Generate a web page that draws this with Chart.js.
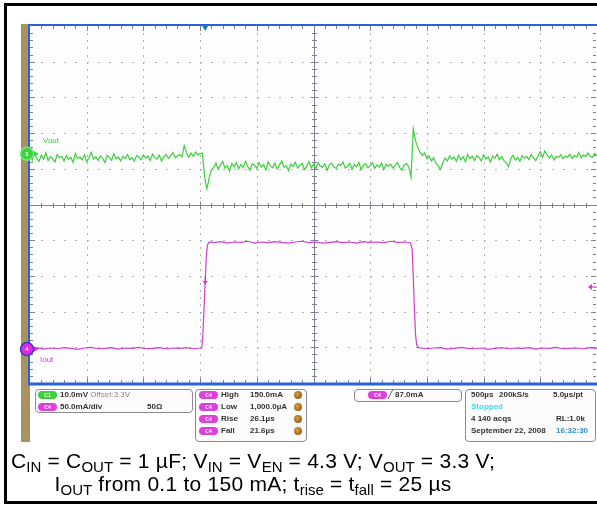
<!DOCTYPE html>
<html>
<head>
<meta charset="utf-8">
<script src="https://cdn.jsdelivr.net/npm/chart.js@4/dist/chart.umd.min.js"></script>
<style>
  body { margin: 0; background: #fff; }
  #wrap { position: relative; width: 597px; height: 506px; overflow: hidden; font-family: "Liberation Sans", Arial, sans-serif; }
  #frame { position: absolute; left: 4px; top: 3px; width: 610px; height: 501px; border: 3px solid #000; box-sizing: border-box; }
  #strip { position: absolute; left: 21px; top: 24px; width: 9px; height: 418px; background: #a8925f; }
  #scope { position: absolute; left: 0; top: 0; }
  .pan { position: absolute; border: 1px solid #8c8c8c; border-radius: 4px; background: #fcfcfc; box-sizing: border-box; }
  .t { position: absolute; font-size: 8px; line-height: 8px; font-weight: bold; color: #333; white-space: nowrap; }
  .g { color: #888; font-weight: normal; }
  .pill { position: absolute; width: 19px; height: 8px; border-radius: 4px; font-size: 5px; line-height: 8px; color: #fff; text-align: center; font-weight: bold; }
  .c1 { background: #3fcf3f; }
  .c4 { background: #de3ede; }
  .dot { position: absolute; width: 8px; height: 8px; border-radius: 50%; background: radial-gradient(circle at 40% 40%, #e0a040, #7a4a10); }
  .lbl { position: absolute; font-size: 8px; line-height: 8px; white-space: nowrap; }
  .cap { position: absolute; left: 0; width: 506px; text-align: center; font-size: 21px; line-height: 22px; letter-spacing: 0.25px; color: #000; white-space: nowrap; }
  .cap .s { font-size: 15px; position: relative; top: 4px; letter-spacing: 0; }
</style>
</head>
<body>
<div id="wrap">
  <div id="frame"></div>
  <div id="strip"></div>
  <canvas id="scope" width="597" height="506"></canvas>

  <div class="lbl" style="left:43px;top:137px;color:#3ccf3c;">Vout</div>
  <div class="lbl" style="left:40px;top:356px;color:#d23cd2;">Iout</div>

  <!-- channel settings -->
  <div class="pan" style="left:35px;top:389px;width:158px;height:24px;"></div>
  <div class="pill c1" style="left:38px;top:391px;">C1</div>
  <div class="t" style="left:60px;top:391px;">10.0mV <span class="g">Offset:3.3V</span></div>
  <div class="pill c4" style="left:38px;top:403px;">C4</div>
  <div class="t" style="left:60px;top:403px;">50.0mA/div</div>
  <div class="t" style="left:147px;top:403px;">50Ω</div>

  <!-- measurements -->
  <div class="pan" style="left:195px;top:389px;width:112px;height:53px;"></div>
  <div class="pill c4" style="left:199px;top:391px;">C4</div>
  <div class="t" style="left:221px;top:391px;">High</div>
  <div class="t" style="left:250px;top:391px;">150.0mA</div>
  <div class="dot" style="left:294px;top:391px;"></div>
  <div class="pill c4" style="left:199px;top:403px;">C4</div>
  <div class="t" style="left:221px;top:403px;">Low</div>
  <div class="t" style="left:250px;top:403px;">1,000.0µA</div>
  <div class="dot" style="left:294px;top:403px;"></div>
  <div class="pill c4" style="left:199px;top:415px;">C4</div>
  <div class="t" style="left:221px;top:415px;">Rise</div>
  <div class="t" style="left:250px;top:415px;">26.1µs</div>
  <div class="dot" style="left:294px;top:415px;"></div>
  <div class="pill c4" style="left:199px;top:427px;">C4</div>
  <div class="t" style="left:221px;top:427px;">Fall</div>
  <div class="t" style="left:250px;top:427px;">21.6µs</div>
  <div class="dot" style="left:294px;top:427px;"></div>

  <!-- trigger -->
  <div class="pan" style="left:354px;top:389px;width:108px;height:13px;"></div>
  <div class="pill c4" style="left:368px;top:391px;">C4</div>
  <div class="t" style="left:388px;top:391px;font-weight:normal;">&#x2571;</div>
  <div class="t" style="left:395px;top:391px;">87.0mA</div>

  <!-- acquisition -->
  <div class="pan" style="left:465px;top:389px;width:131px;height:53px;"></div>
  <div class="t" style="left:471px;top:391px;">500µs</div>
  <div class="t" style="left:499px;top:391px;">200kS/s</div>
  <div class="t" style="left:553px;top:391px;">5.0µs/pt</div>
  <div class="t" style="left:471px;top:403px;color:#46d6e6;">Stopped</div>
  <div class="t" style="left:471px;top:415px;">4 140 acqs</div>
  <div class="t" style="left:556px;top:415px;">RL:1.0k</div>
  <div class="t" style="left:471px;top:427px;">September 22, 2008</div>
  <div class="t" style="left:556px;top:427px;color:#3a8fd0;">16:32:30</div>

  <div class="cap" style="top:450px;">C<span class="s">IN</span> = C<span class="s">OUT</span> = 1 µF; V<span class="s">IN</span> = V<span class="s">EN</span> = 4.3 V; V<span class="s">OUT</span> = 3.3 V;</div>
  <div class="cap" style="top:473px;">I<span class="s">OUT</span> from 0.1 to 150 mA; t<span class="s">rise</span> = t<span class="s">fall</span> = 25 µs</div>
</div>

<script>
// Vout ripple around the 3.3 V offset, mV, one reading every SAMPLE_US
const SAMPLE_US = 20;
const voutMv = [
  -0.6, -1.8, 0.2, -1.2, -2.1, -0.4, -1.5, 0.3, -1.9, -0.8,
  -1.4, -2.3, -0.2, -1.1, -0.7, -2.0, -0.5, -1.6, -1.0, -2.4,
  0.1, -1.3, -0.9, -1.7, -0.3, -2.2, -1.1, 0.4, -1.5, -0.8,
  -1.9, -0.6, -1.2, -2.5, -0.4, -1.0, -1.8, 0.0, -1.4, -0.9,
  -2.0, -0.7, -1.3, -0.2, -1.6, -1.1, -2.1, -0.5, -0.9, -1.7,
  -0.3, -1.2, -0.6, -1.9, -0.1, -1.0, -1.5, -0.4, -2.0, -0.8,
  -0.2, -1.3, -0.5, 0.3, -1.1, -0.6, -0.2, -0.9, 2.3, 0.4,
  -1.0, 0.2, -0.7, 0.5, -0.3, 0.1,
  0.2, -6.5, -9.8, -6.8, -4.5,
  -3.8, -2.6, -4.4, -3.1, -2.2, -4.0, -3.3, -4.8, -2.7, -3.6,
  -2.4, -4.2, -3.0, -3.9, -2.1, -3.5, -4.6, -2.8, -3.2, -4.1,
  -2.5, -3.7, -3.0, -4.5, -2.3, -3.4, -3.9, -2.6, -4.3, -3.1,
  -2.0, -3.8, -3.3, -4.7, -2.9, -3.5, -2.4, -4.0, -3.2, -2.7,
  -4.4, -3.6, -2.2, -3.9, -3.0, -4.2, -2.5, -3.4, -3.8, -2.8,
  -4.6, -3.1, -2.6, -3.7, -4.1, -2.9, -3.3, -2.3, -4.0, -3.5,
  -2.7, -4.3, -3.0, -3.6, -2.4, -4.5, -3.2, -2.8, -3.9, -3.4,
  -2.5, -4.1, -3.1, -3.7, -2.6, -4.4, -3.0, -3.5, -2.9, -4.0,
  -3.3, -2.4, -3.8, -4.6, -3.1, -2.7, -3.6,
  -6.5,
  7.0, 3.6, 1.8, 0.4, -0.5, 0.3, -1.4, -0.6, -2.0, -1.1,
  -2.7, -3.4, -4.4, -2.5, -1.2, -2.0, -0.6, -1.5, -0.9, -2.1,
  -0.4, -1.7, -0.8, -2.2, -0.2, -1.3, -0.7, -1.9, -0.5, -1.1,
  -2.0, -0.3, -1.4, -0.9, -2.3, -0.6, -1.2, -0.1, -1.6, -0.8,
  -1.9, -2.6, -3.6, -1.3, -0.4, -1.8, -1.0, -2.1, -0.5, -1.2,
  -0.8, -1.6, -0.2, -1.1, -1.9, -0.6, 0.6, -1.0, 0.8, -0.4,
  -1.2, -0.3, -1.7, -0.7, -1.1, -0.2, -1.4, -0.6, -1.0, -0.1,
  -1.3, -0.5, -0.9, 0.4, -1.1, -0.3, -0.8, 0.2, -0.6, -1.0, 0.1, -0.4
];

// Iout load step, time in µs and current in mA
const iTimeUs = [
  0, 60, 120, 180, 240, 300, 360, 420, 480, 540, 600, 660, 720, 780, 840, 900, 960,
  1020, 1080, 1140, 1200, 1260, 1320, 1380, 1440, 1500,
  1515, 1525, 1535, 1545, 1555, 1565, 1580,
  1620, 1680, 1740, 1800, 1860, 1920, 1980, 2040, 2100, 2160, 2220, 2280, 2340, 2400,
  2460, 2520, 2580, 2640, 2700, 2760, 2820, 2880, 2940, 3000, 3060, 3120, 3180, 3240, 3300, 3355,
  3370, 3380, 3390, 3400, 3410, 3425,
  3500, 3560, 3620, 3680, 3740, 3800, 3860, 3920, 3980, 4040, 4100, 4160, 4220,
  4280, 4340, 4400, 4460, 4520, 4580, 4640, 4700, 4760, 4820, 4880, 4940, 5000
];
const iMa = [
  1, 2, 0, 1.5, 0.5, 2, 1, -0.5, 1.5, 2.5, 0.5, 1, 2, 0, 1.5, 1, 2.5,
  0.5, 1, 2, 0.5, 1.5, 1, 2, 0.5, 1.5,
  2, 22, 58, 95, 130, 146, 150,
  149, 150.5, 148.5, 150, 149.5, 151, 148.5, 150, 149, 150.5, 149.5, 148.5, 150, 151,
  149, 150, 148.5, 149.5, 150.5, 149, 150, 148.5, 150.5, 149.5, 150, 149, 151, 149.5, 150, 149,
  140, 100, 55, 20, 6, 2,
  0.5, 1.5, 2, 0, 1, 2.5, 1, 0.5, 1.5, -0.5, 1, 2, 0.5,
  1.5, 1, 2, 0, 1.5, 1, 2.5, 0.5, 1, 1.5, 0.5, 2, 1
];

// scope settings
const X_MAX_US = 5000;          // 10 div x 500 µs
const V_RANGE = [-64.2, 35.8];  // 10 mV/div, offset marker at 0
const I_RANGE = [-47.5, 452.5]; // 50 mA/div, ground marker at 0
const TRIG_US = 1545;
const TRIG_MA = 87;

const graticule = {
  id: 'graticule',
  beforeDatasetsDraw(chart) {
    const { ctx, chartArea: a } = chart;
    const dx = (a.right - a.left) / 10, dy = (a.bottom - a.top) / 10;
    ctx.save();
    ctx.fillStyle = '#fdfdfd';
    ctx.fillRect(a.left, a.top, a.right - a.left, a.bottom - a.top);

    // dotted grid
    ctx.fillStyle = '#b0b0b0';
    for (let i = 1; i < 10; i++) {
      if (i === 5) continue;
      const x = Math.round(a.left + i * dx);
      for (let j = 1; j < 50; j++) ctx.fillRect(x, Math.round(a.top + j * dy / 5), 1, 2);
      const y = Math.round(a.top + i * dy);
      for (let j = 1; j < 50; j++) ctx.fillRect(Math.round(a.left + j * dx / 5), y, 2, 1);
    }

    // center cross + ticks
    const cx = Math.round(a.left + 5 * dx) + 0.5, cy = Math.round(a.top + 5 * dy) + 0.5;
    ctx.strokeStyle = '#7d8494';
    ctx.lineWidth = 1;
    ctx.beginPath();
    ctx.moveTo(a.left, cy); ctx.lineTo(a.right, cy);
    ctx.moveTo(cx, a.top); ctx.lineTo(cx, a.bottom);
    for (let j = 1; j < 50; j++) {
      const x = Math.round(a.left + j * dx / 5) + 0.5;
      const y = Math.round(a.top + j * dy / 5) + 0.5;
      const L = j % 5 === 0 ? 4 : 2.5;
      ctx.moveTo(x, cy - L); ctx.lineTo(x, cy + L);
      ctx.moveTo(cx - L, y); ctx.lineTo(cx + L, y);
      const E = j % 5 === 0 ? 5 : 3;
      ctx.moveTo(x, a.top); ctx.lineTo(x, a.top + E);
      ctx.moveTo(x, a.bottom); ctx.lineTo(x, a.bottom - E);
      ctx.moveTo(a.left, y); ctx.lineTo(a.left + E, y);
      ctx.moveTo(a.right - 1, y); ctx.lineTo(a.right - 1 - E, y);
    }
    ctx.stroke();

    // blue frame
    ctx.strokeStyle = '#2a63d6';
    ctx.lineWidth = 2;
    ctx.beginPath();
    ctx.moveTo(a.left - 1, a.top - 1); ctx.lineTo(a.right, a.top - 1);
    ctx.moveTo(a.left - 1, a.top - 2); ctx.lineTo(a.left - 1, a.bottom + 2);
    ctx.stroke();
    ctx.lineWidth = 3;
    ctx.beginPath();
    ctx.moveTo(a.left - 2, a.bottom + 1); ctx.lineTo(a.right, a.bottom + 1);
    ctx.stroke();
    ctx.restore();
  }
};

const markers = {
  id: 'markers',
  afterDatasetsDraw(chart) {
    const { ctx, chartArea: a, scales } = chart;
    const yv0 = scales.yv.getPixelForValue(0);
    const yi0 = scales.yi.getPixelForValue(0);
    const yTrig = scales.yi.getPixelForValue(TRIG_MA);
    const xTrig = scales.x.getPixelForValue(TRIG_US);
    ctx.save();

    // channel ground/offset markers
    function chan(y, fill, ring, txt) {
      ctx.fillStyle = fill;
      ctx.beginPath(); ctx.moveTo(33, y - 3); ctx.lineTo(39, y); ctx.lineTo(33, y + 3); ctx.fill();
      ctx.fillRect(30, y - 0.5, 6, 1.5);
      ctx.beginPath(); ctx.arc(27, y, 6.5, 0, Math.PI * 2); ctx.fill();
      ctx.strokeStyle = ring; ctx.lineWidth = 1.5; ctx.stroke();
      ctx.fillStyle = '#fff';
      ctx.font = 'bold 6px "Liberation Sans", Arial';
      ctx.textAlign = 'center'; ctx.textBaseline = 'middle';
      ctx.fillText(txt, 27, y + 0.5);
    }
    chan(yv0, '#3fd23f', '#7be87b', '1');
    chan(yi0, '#d82ee0', '#3a3ac8', '4');

    // trigger position (top)
    ctx.fillStyle = '#1e7fa8';
    ctx.beginPath(); ctx.moveTo(xTrig - 3.5, a.top - 1); ctx.lineTo(xTrig + 3.5, a.top - 1); ctx.lineTo(xTrig, a.top + 5); ctx.fill();

    // trigger point on the edge
    const yT = yTrig - 8;
    ctx.fillStyle = '#d23cd2';
    ctx.beginPath(); ctx.moveTo(xTrig - 2.5, yT + 2); ctx.lineTo(xTrig + 2.5, yT + 2); ctx.lineTo(xTrig, yT + 6); ctx.fill();
    ctx.fillRect(xTrig - 0.5, yT - 3, 1.2, 6);

    // trigger level (right)
    ctx.beginPath(); ctx.moveTo(a.right - 9, yTrig); ctx.lineTo(a.right - 5, yTrig - 3); ctx.lineTo(a.right - 5, yTrig + 3); ctx.fill();
    ctx.fillRect(a.right - 6, yTrig - 0.5, 6, 1.2);
    ctx.restore();
  }
};

const voutPts = voutMv.map((v, i) => ({ x: i * SAMPLE_US, y: v }));
const ioutPts = iMa.map((v, i) => ({ x: iTimeUs[i], y: v }));

new Chart(document.getElementById('scope'), {
  type: 'line',
  data: {
    datasets: [
      { label: 'Vout', data: voutPts, yAxisID: 'yv', borderColor: '#3ccf3c', borderWidth: 1.2, pointRadius: 0, tension: 0 },
      { label: 'Iout', data: ioutPts, yAxisID: 'yi', borderColor: '#d23cd2', borderWidth: 1.2, pointRadius: 0, tension: 0 }
    ]
  },
  options: {
    responsive: false,
    animation: false,
    devicePixelRatio: 1,
    layout: { padding: { left: 30, top: 26, right: 0, bottom: 123 } },
    plugins: { legend: { display: false }, tooltip: { enabled: false } },
    scales: {
      x: { type: 'linear', min: 0, max: X_MAX_US, display: false },
      yv: { type: 'linear', min: V_RANGE[0], max: V_RANGE[1], display: false },
      yi: { type: 'linear', min: I_RANGE[0], max: I_RANGE[1], display: false }
    }
  },
  plugins: [graticule, markers]
});
</script>
</body>
</html>
